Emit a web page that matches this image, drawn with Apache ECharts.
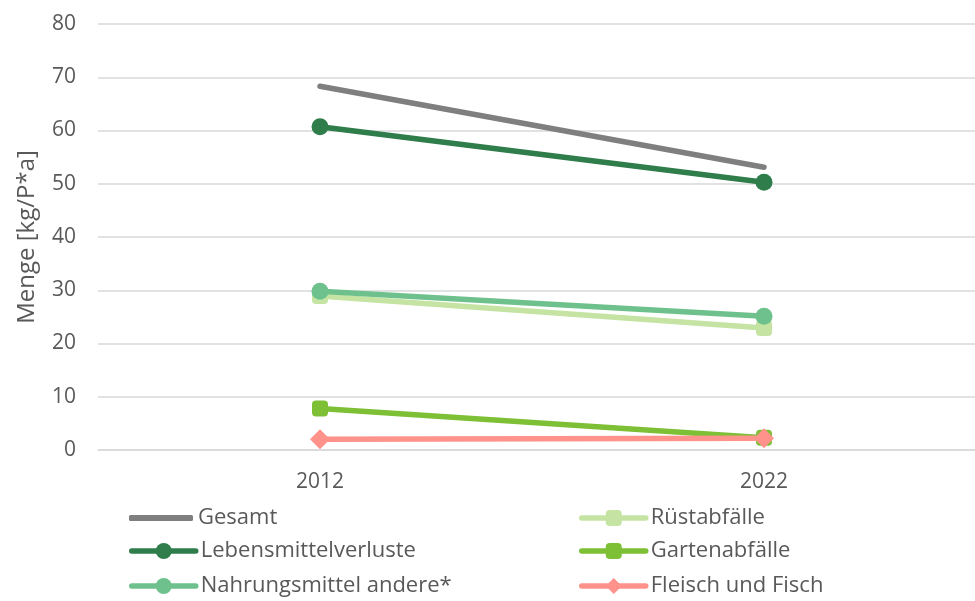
<!DOCTYPE html>
<html>
<head>
<meta charset="utf-8">
<script src="https://cdn.jsdelivr.net/npm/echarts@6/dist/echarts.min.js"></script>
<style>
  html, body { margin: 0; padding: 0; background: #fff; }
  #chart { width: 975px; height: 601px; }
</style>
</head>
<body>
<div id="chart"></div>
<script>
// Categories (years) and per-capita amounts in kg/P*a
const years = ['2012', '2022'];
const gesamt = [68.3, 53.1];
const lebensmittelverluste = [60.7, 50.3];
const ruestabfaelle = [28.9, 22.9];
const nahrungsmittelAndere = [29.8, 25.1];
const gartenabfaelle = [7.8, 2.3];
const fleischUndFisch = [2.0, 2.2];
const yTicks = { min: 0, max: 80, step: 10 };

const textColor = '#595959';
const fontFamily = 'Open Sans, Noto Sans, sans-serif';
const lineW = 5.5;

const colors = {
  gesamt: '#7f7f7f',
  lebens: '#2e7d4a',
  ruest: '#c5e4a3',
  nahrung: '#6ec18c',
  garten: '#7dbf35',
  fleisch: '#ff928b'
};

function lineSeries(name, data, color, symbol, size) {
  return {
    name: name,
    type: 'line',
    data: data,
    symbol: symbol,
    symbolSize: size,
    showSymbol: symbol !== 'none',
    lineStyle: { color: color, width: lineW, cap: 'round' },
    itemStyle: { color: color },
    emphasis: { disabled: true },
    animation: false
  };
}

// One legend entry per component so the two columns sit exactly where wanted
function legendEntry(name, left, centerY, opts) {
  const h = (opts && opts.itemHeight) || 20;
  return Object.assign({
    left: left,
    top: centerY - 13,
    itemWidth: 64,
    itemHeight: h,
    itemGap: 0,
    padding: 0,
    selectedMode: false,
    lineStyle: { width: lineW, cap: 'round' },
    textStyle: { color: textColor, fontSize: 22, fontFamily: fontFamily, lineHeight: 26 },
    data: [name]
  }, opts || {});
}

const chart = echarts.init(document.getElementById('chart'), null, { renderer: 'canvas' });
chart.setOption({
  backgroundColor: '#ffffff',
  grid: { left: 98, width: 888, top: 24, height: 426, containLabel: false, outerBoundsMode: 'none' },
  legend: [
    legendEntry('Gesamt', 129, 518, {
      data: [{ name: 'Gesamt', icon: 'roundRect', itemStyle: { color: colors.gesamt } }],
      itemHeight: 6
    }),
    legendEntry('Lebensmittelverluste', 129, 551),
    legendEntry('Nahrungsmittel andere*', 129, 586),
    legendEntry('Rüstabfälle', 579, 518),
    legendEntry('Gartenabfälle', 579, 551),
    legendEntry('Fleisch und Fisch', 579, 586)
  ],
  xAxis: {
    type: 'category',
    data: years,
    boundaryGap: true,
    axisLine: { show: true, lineStyle: { color: '#d9d9d9', width: 1.5 } },
    axisTick: { show: false },
    axisLabel: { color: textColor, fontSize: 21, fontFamily: fontFamily, margin: 22 },
    splitLine: { show: false }
  },
  yAxis: {
    type: 'value',
    min: yTicks.min,
    max: yTicks.max,
    interval: yTicks.step,
    name: 'Menge [kg/P*a]',
    nameLocation: 'middle',
    nameGap: 59,
    nameRotate: 90,
    nameTextStyle: { color: textColor, fontSize: 24, fontFamily: fontFamily },
    axisLine: { show: false },
    axisTick: { show: false },
    axisLabel: { color: textColor, fontSize: 21, fontFamily: fontFamily, margin: 22 },
    splitLine: { show: true, lineStyle: { color: '#d9d9d9', width: 1.5 } }
  },
  series: [
    lineSeries('Gesamt', gesamt, colors.gesamt, 'none', 0),
    lineSeries('Lebensmittelverluste', lebensmittelverluste, colors.lebens, 'circle', 17),
    lineSeries('Rüstabfälle', ruestabfaelle, colors.ruest, 'roundRect', 16),
    lineSeries('Nahrungsmittel andere*', nahrungsmittelAndere, colors.nahrung, 'circle', 17),
    lineSeries('Gartenabfälle', gartenabfaelle, colors.garten, 'roundRect', 16),
    lineSeries('Fleisch und Fisch', fleischUndFisch, colors.fleisch, 'diamond', 20)
  ]
});
</script>
</body>
</html>
